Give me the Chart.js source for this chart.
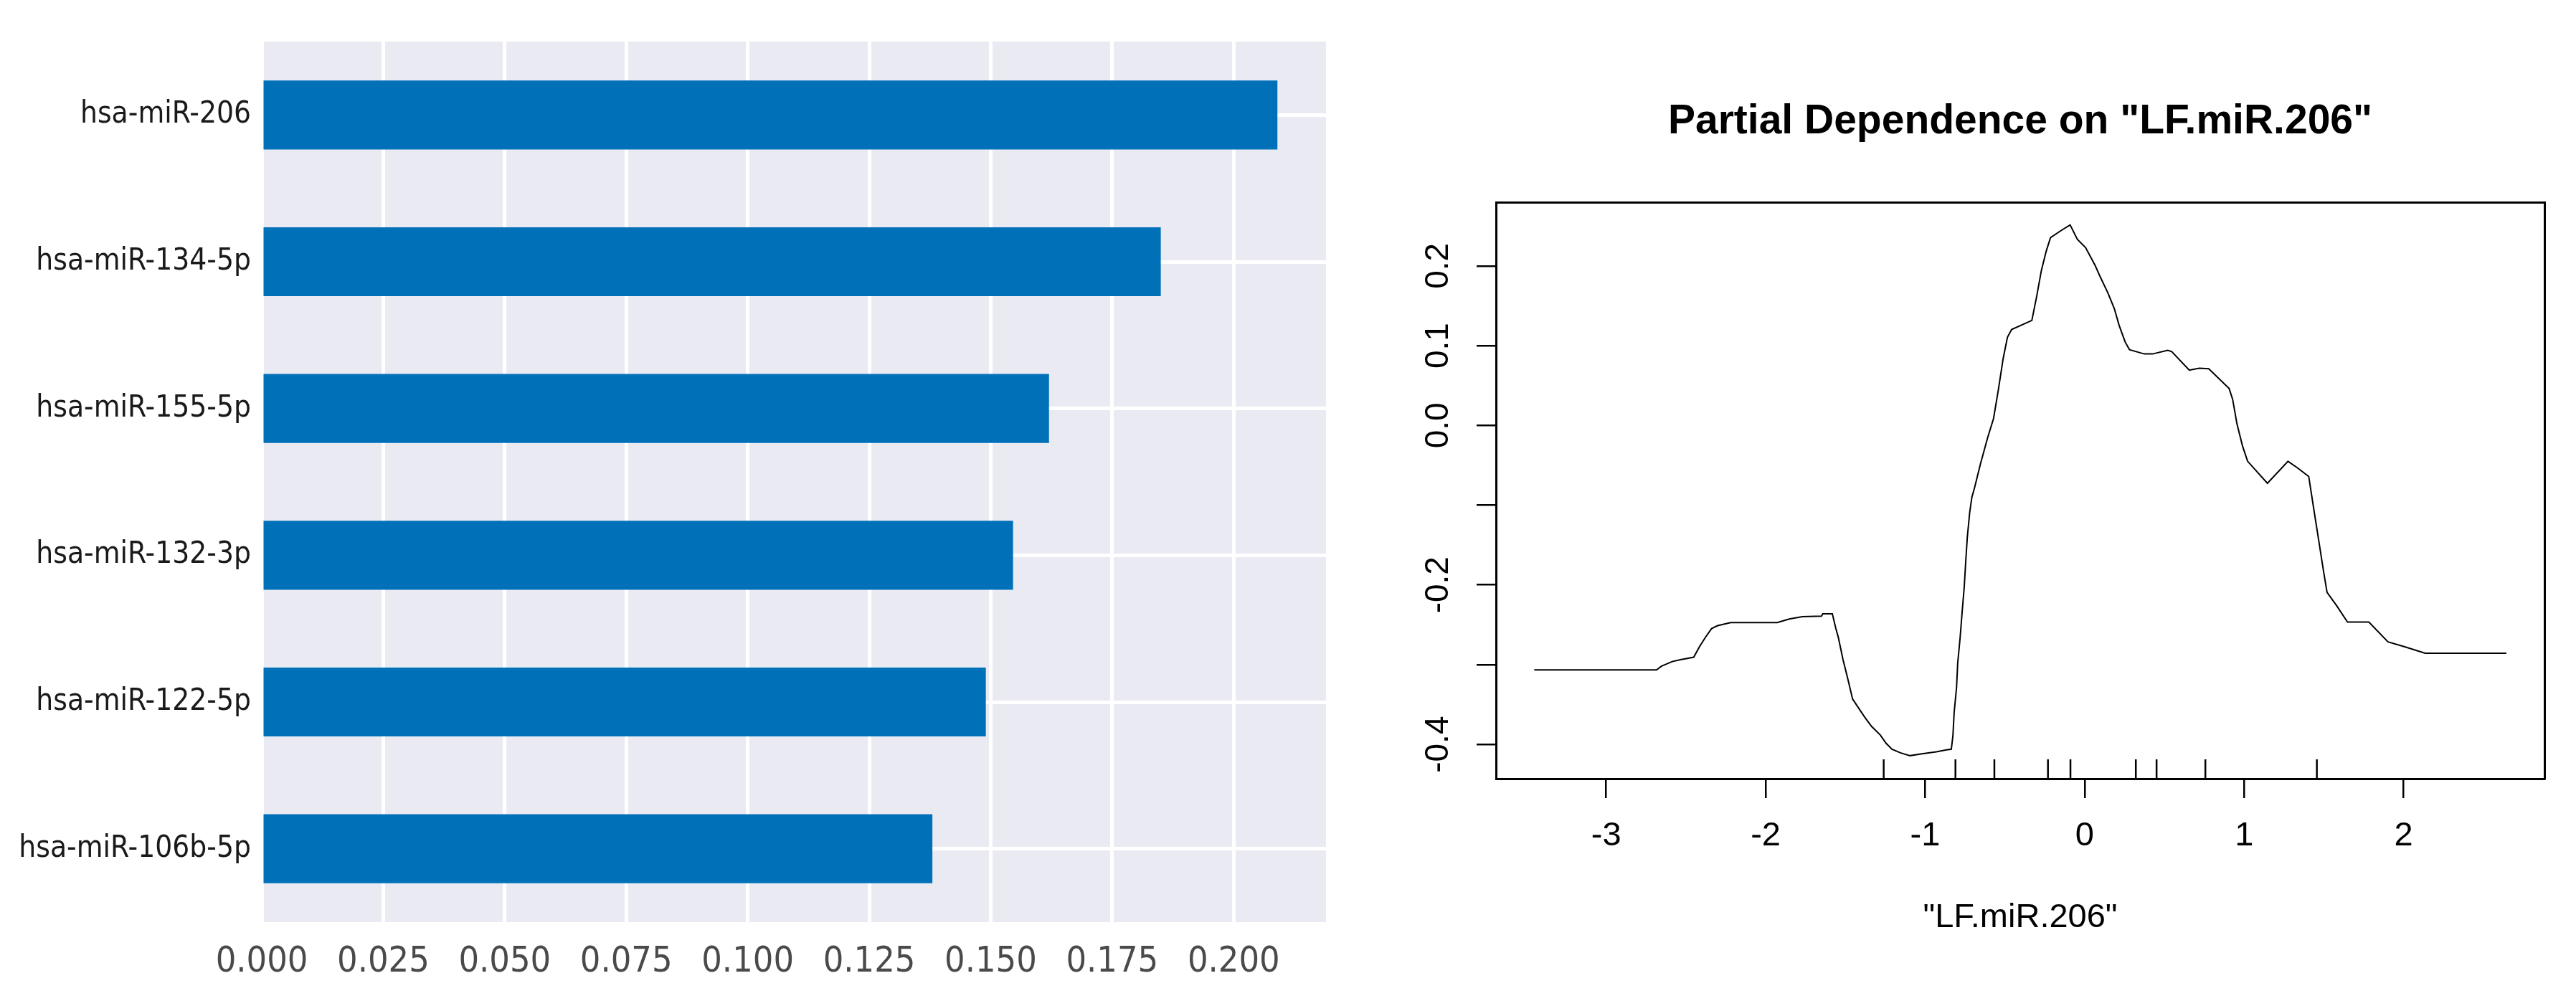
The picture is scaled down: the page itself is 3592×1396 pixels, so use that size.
<!doctype html>
<html lang="en">
<head>
<meta charset="utf-8">
<title>miRNA importance and partial dependence</title>
<script src="https://cdn.jsdelivr.net/npm/chart.js"></script>
<style>
  html, body { margin: 0; padding: 0; background: #fff; }
  body { width: 3592px; height: 1396px; position: relative; overflow: hidden; }
  canvas { position: absolute; top: 0; }
  #importance { left: 0; }
  #partial { left: 1900px; }
</style>
</head>
<body>
<canvas id="importance" width="1900" height="1396"></canvas>
<canvas id="partial" width="1692" height="1396"></canvas>
<script>
// ---- left panel: feature importance ----
const mirNames = ['hsa-miR-206', 'hsa-miR-134-5p', 'hsa-miR-155-5p',
                  'hsa-miR-132-3p', 'hsa-miR-122-5p', 'hsa-miR-106b-5p'];
const importance = [0.209, 0.185, 0.162, 0.1546, 0.149, 0.138];
const importanceTicks = ['0.000', '0.025', '0.050', '0.075', '0.100',
                         '0.125', '0.150', '0.175', '0.200'];

// ---- right panel: partial dependence on LF.miR.206 ----
const pdX = [-3.451, -2.684, -2.654, -2.586, -2.534, -2.451, -2.414, -2.376, -2.339, -2.301,
  -2.219, -1.927, -1.852, -1.770, -1.650, -1.642, -1.582, -1.560, -1.545, -1.515,
  -1.485, -1.455, -1.425, -1.380, -1.335, -1.282, -1.245, -1.208, -1.155, -1.095,
  -1.020, -0.930, -0.866, -0.836, -0.826, -0.818, -0.803, -0.796, -0.781, -0.768,
  -0.755, -0.746, -0.736, -0.721, -0.707, -0.690, -0.653, -0.608, -0.571, -0.541,
  -0.511, -0.484, -0.458, -0.331, -0.301, -0.271, -0.241, -0.214, -0.151, -0.091,
  -0.046, 0.006, 0.066, 0.096, 0.146, 0.186, 0.216, 0.254, 0.281, 0.374,
  0.426, 0.521, 0.546, 0.656, 0.719, 0.778, 0.906, 0.928, 0.955,
  0.990, 1.022, 1.146, 1.275, 1.333, 1.405, 1.438, 1.468, 1.498, 1.520,
  1.580, 1.648, 1.782, 1.902, 2.007, 2.135, 2.644];
const pdY = [-0.3065, -0.3065, -0.3020, -0.2961, -0.2937, -0.2907, -0.2772, -0.2652, -0.2547, -0.2511,
  -0.2472, -0.2472, -0.2427, -0.2398, -0.2392, -0.2362, -0.2362, -0.2547, -0.2653, -0.2937,
  -0.3177, -0.3431, -0.3521, -0.3656, -0.3776, -0.3880, -0.3985, -0.4060, -0.4105, -0.4141,
  -0.4117, -0.4093, -0.4069, -0.4060, -0.3895, -0.3596, -0.3282, -0.2982, -0.2668, -0.2338,
  -0.2024, -0.1724, -0.1410, -0.1095, -0.0900, -0.0780, -0.0481, -0.0152, 0.0088, 0.0447,
  0.0837, 0.1106, 0.1202, 0.1316, 0.1615, 0.1945, 0.2184, 0.2355, 0.2439, 0.2514,
  0.2334, 0.2229, 0.2005, 0.1870, 0.1660, 0.1465, 0.1256, 0.1046, 0.0950, 0.0896,
  0.0896, 0.0941, 0.0926, 0.0693, 0.0717, 0.0711, 0.0462, 0.0327, 0.0020,
  -0.0260, -0.0450, -0.0725, -0.0450, -0.0530, -0.0640, -0.1065, -0.1447, -0.1830, -0.2093,
  -0.2260, -0.2465, -0.2465, -0.2714, -0.2776, -0.2857, -0.2857];
const rugX = [-1.26, -0.81, -0.566, -0.23, -0.089, 0.321, 0.451, 0.757, 1.456];
const pdXTicks = ['-3', '-2', '-1', '0', '1', '2'];
const pdYTicks = ['-0.4', '', '-0.2', '', '0.0', '0.1', '0.2'];

const xMin = -3.691, xMax = 2.883;
const yMin = -0.443, yMax = 0.2795;

// grey panel behind the bars
const plotBg = {
  id: 'plotBg',
  beforeDraw(chart, args, opts) {
    if (!opts.color) return;
    const { ctx, chartArea: a } = chart;
    ctx.save();
    ctx.fillStyle = opts.color;
    ctx.fillRect(a.left, a.top, a.width, a.height);
    ctx.restore();
  }
};

const narrow = "'Liberation Sans Narrow', 'DejaVu Sans Condensed', sans-serif";
const arial = "'Liberation Sans', Arial, sans-serif";

new Chart(document.getElementById('importance'), {
  type: 'bar',
  data: {
    labels: mirNames,
    datasets: [{
      data: importance,
      backgroundColor: '#0071B9',
      barPercentage: 0.47,
      categoryPercentage: 1
    }]
  },
  options: {
    indexAxis: 'y',
    responsive: false,
    animation: false,
    layout: { padding: { top: 58, right: 51, left: 0, bottom: 0 } },
    plugins: {
      legend: { display: false },
      tooltip: { enabled: false },
      plotBg: { color: '#EAEAF2' }
    },
    scales: {
      x: {
        min: 0, max: 0.219,
        afterFit: s => { s.height = 110; },
        ticks: {
          stepSize: 0.025, includeBounds: false, padding: 26,
          color: '#4a4a4a', font: { family: narrow, size: 50 },
          callback: (v, i) => importanceTicks[i]
        },
        grid: { color: '#ffffff', lineWidth: 5, drawTicks: false },
        border: { display: false }
      },
      y: {
        afterFit: s => { s.width = 365; },
        ticks: { padding: 15, color: '#1a1a1a', font: { family: narrow, size: 42 } },
        grid: { color: '#ffffff', lineWidth: 5, drawTicks: false, offset: false },
        border: { display: false }
      }
    }
  },
  plugins: [plotBg]
});

new Chart(document.getElementById('partial'), {
  type: 'line',
  data: {
    datasets: [{
      data: pdX.map((x, i) => ({ x, y: pdY[i] })),
      borderColor: '#000',
      borderWidth: 2,
      pointRadius: 0,
      tension: 0,
      fill: false
    }, {
      // rug of decile positions along the bottom edge
      data: rugX.map(x => ({ x, y: yMin + 0.0121 })),
      showLine: false,
      pointStyle: 'line',
      rotation: 90,
      pointRadius: 13.5,
      pointBorderColor: '#000',
      pointBorderWidth: 2.5
    }]
  },
  options: {
    responsive: false,
    animation: false,
    layout: { padding: 0 },
    plugins: {
      legend: { display: false },
      tooltip: { enabled: false },
      title: {
        display: true,
        text: 'Partial Dependence on "LF.miR.206"',
        fullSize: false,
        color: '#000',
        font: { family: arial, size: 57, weight: 'bold', lineHeight: 1.2 },
        padding: { top: 136, bottom: 78 }
      }
    },
    scales: {
      x: {
        type: 'linear', position: 'bottom', min: xMin, max: xMax,
        afterFit: s => { s.height = 310; },
        ticks: {
          stepSize: 1, includeBounds: false, padding: 25, color: '#000',
          font: { family: arial, size: 47 },
          callback: (v, i) => pdXTicks[i]
        },
        grid: { drawOnChartArea: false, drawTicks: true, tickLength: 27, tickColor: '#000', lineWidth: 2.5 },
        border: { display: true, color: '#000', width: 3 },
        title: {
          display: true, text: '"LF.miR.206"', color: '#000',
          font: { family: arial, size: 47, lineHeight: 1.2 },
          padding: { top: 0, bottom: 88 }
        }
      },
      y: {
        type: 'linear', position: 'left', min: yMin, max: yMax,
        afterFit: s => { s.width = 186; },
        ticks: {
          stepSize: 0.1, includeBounds: false, minRotation: 90, maxRotation: 90,
          crossAlign: 'center', padding: 13, color: '#000', autoSkip: false,
          font: { family: arial, size: 46 },
          callback: (v, i) => pdYTicks[i]
        },
        grid: { drawOnChartArea: false, drawTicks: true, tickLength: 27, tickColor: '#000', lineWidth: 2.5 },
        border: { display: true, color: '#000', width: 3 }
      },
      x2: {
        type: 'linear', position: 'top', min: xMin, max: xMax,
        afterFit: s => { s.height = 0; },
        ticks: { display: false },
        grid: { display: false },
        border: { display: true, color: '#000', width: 3 }
      },
      y2: {
        type: 'linear', position: 'right', min: yMin, max: yMax,
        afterFit: s => { s.width = 44; },
        ticks: { display: false },
        grid: { display: false },
        border: { display: true, color: '#000', width: 3 }
      }
    }
  }
});
</script>
</body>
</html>
